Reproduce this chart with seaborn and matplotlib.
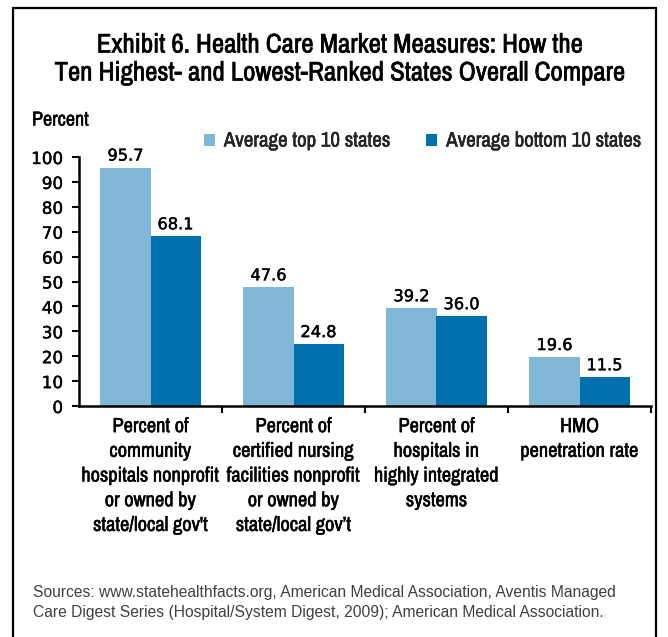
import matplotlib
matplotlib.use('Agg')
import matplotlib.pyplot as plt
import matplotlib.patheffects as pe
import seaborn as sns
import pandas as pd
from matplotlib.patches import Patch
from matplotlib.lines import Line2D
from matplotlib.ticker import FixedLocator

categories = [
    "Percent of\ncommunity\nhospitals nonprofit\nor owned by\nstate/local gov't",
    "Percent of\ncertified nursing\nfacilities nonprofit\nor owned by\nstate/local gov\u2019t",
    "Percent of\nhospitals in\nhighly integrated\nsystems",
    "HMO\npenetration rate",
]
series_names = ["Average top 10 states", "Average bottom 10 states"]
top10 = [95.7, 47.6, 39.2, 19.6]
bottom10 = [68.1, 24.8, 36.0, 11.5]
yticks = list(range(0, 101, 10))
colors = ["#80B6D6", "#006FAE"]

title_lines = ["Exhibit 6. Health Care Market Measures: How the",
               "Ten Highest- and Lowest-Ranked States Overall Compare"]
source_lines = ["Sources: www.statehealthfacts.org, American Medical Association, Aventis Managed",
                "Care Digest Series (Hospital/System Digest, 2009); American Medical Association."]

df = pd.DataFrame({
    "category": categories * 2,
    "series": [series_names[0]] * 4 + [series_names[1]] * 4,
    "value": top10 + bottom10,
})

sns.set_theme(style="white")
TXT = ['Archivo Narrow', 'DejaVu Sans']
NUM = ['DejaVu Sans']
plt.rcParams['font.family'] = TXT

def heavy(w):
    return [pe.withStroke(linewidth=w, foreground="black")]

W, H = 668, 637
fig = plt.figure(figsize=(W / 100, H / 100), dpi=100)
ax = fig.add_axes([79 / W, 1 - 406 / H, (651 - 79) / W, (406 - 157) / H])

sns.barplot(data=df, x="category", y="value", hue="series", hue_order=series_names,
            palette=colors, width=0.7, gap=0, saturation=1, linewidth=0,
            legend=False, ax=ax)

value_texts = []
for cont in ax.containers:
    value_texts += ax.bar_label(cont, fmt="%.1f", padding=3, fontsize=11.5, family=NUM, color="black")

ax.set_xlim(-0.5, 3.5)
ax.set_ylim(0, 100)
ax.set_yticks(yticks)
ax.set_xlabel("")
ax.set_ylabel("")
ax.tick_params(axis="y", direction="out", length=5, width=1.5, color="black",
               labelsize=11.5, pad=6.5, left=True, labelcolor="black")
for lbl in ax.get_yticklabels():
    lbl.set_fontfamily(NUM)

ax.set_xticks(range(len(categories)))
ax.set_xticklabels(categories, fontsize=12.5, color="black", linespacing=1.38)
ax.tick_params(axis="x", which="major", length=0, pad=8)
ax.xaxis.set_minor_locator(FixedLocator([0.5, 1.5, 2.5, 3.5]))
ax.tick_params(axis="x", which="minor", bottom=True, length=5, width=1.5,
               direction="out", color="black")

for s in ["top", "right"]:
    ax.spines[s].set_visible(False)
for s in ["left", "bottom"]:
    ax.spines[s].set_color("black")
    ax.spines[s].set_linewidth(1.8)

handles = [Patch(facecolor=c, edgecolor="none") for c in colors]
leg = fig.legend(handles, series_names, loc="center left", bbox_to_anchor=(204 / W, 1 - 141 / H),
                 ncol=2, frameon=False, fontsize=13, handlelength=0.6, handleheight=0.6,
                 handletextpad=0.5, columnspacing=2.0, borderpad=0, borderaxespad=0)

t1 = fig.text(340 / W, 1 - 45 / H, title_lines[0], ha="center", va="center", fontsize=18.5, color="black")
t2 = fig.text(340 / W, 1 - 73 / H, title_lines[1], ha="center", va="center", fontsize=18.5, color="black")
tp = fig.text(32 / W, 1 - 120 / H, "Percent", ha="left", va="center", fontsize=13, color="black")
src = [fig.text(33 / W, 1 - (593 + 19 * i) / H, line, ha="left", va="center", fontsize=10.5,
                family=["Liberation Sans", "DejaVu Sans"], color="#404040")
       for i, line in enumerate(source_lines)]

# scale font sizes so text widths match the reference
fig.canvas.draw()
r = fig.canvas.get_renderer()

def scale_for(t, target):
    return t.get_fontsize() * target / t.get_window_extent(r).width

s = scale_for(t1, 486)
t1.set_fontsize(s); t2.set_fontsize(s)
tp.set_fontsize(scale_for(tp, 57))
s = scale_for(src[0], 588)
for t in src:
    t.set_fontsize(s)
xl = ax.get_xticklabels()
s = scale_for(xl[0], 138)
for t in xl:
    t.set_fontsize(s)
lt = leg.get_texts()
s = scale_for(lt[0], 167)
for t in lt:
    t.set_fontsize(s)
yl = ax.get_yticklabels()
s = scale_for(yl[-1], 32)
for t in yl:
    t.set_fontsize(s)
s = scale_for(value_texts[0], 36)
for t in value_texts:
    t.set_fontsize(s)

# slightly heavier strokes, as in the reference's medium-weight type
for t in [t1, t2]:
    t.set_path_effects(heavy(0.45))
for t in [tp] + list(xl) + list(lt):
    t.set_path_effects(heavy(0.35))
for t in list(yl) + list(value_texts):
    t.set_path_effects(heavy(0.3))

lw = 1.6
fig.add_artist(Line2D([13 / W, 13 / W], [0, 1 - 8 / H], color="black", lw=lw, transform=fig.transFigure))
fig.add_artist(Line2D([13 / W, 656 / W], [1 - 8 / H, 1 - 8 / H], color="black", lw=lw, transform=fig.transFigure))
fig.add_artist(Line2D([656 / W, 656 / W], [0, 1 - 8 / H], color="black", lw=lw, transform=fig.transFigure))

fig.savefig("out.png", dpi=100)
